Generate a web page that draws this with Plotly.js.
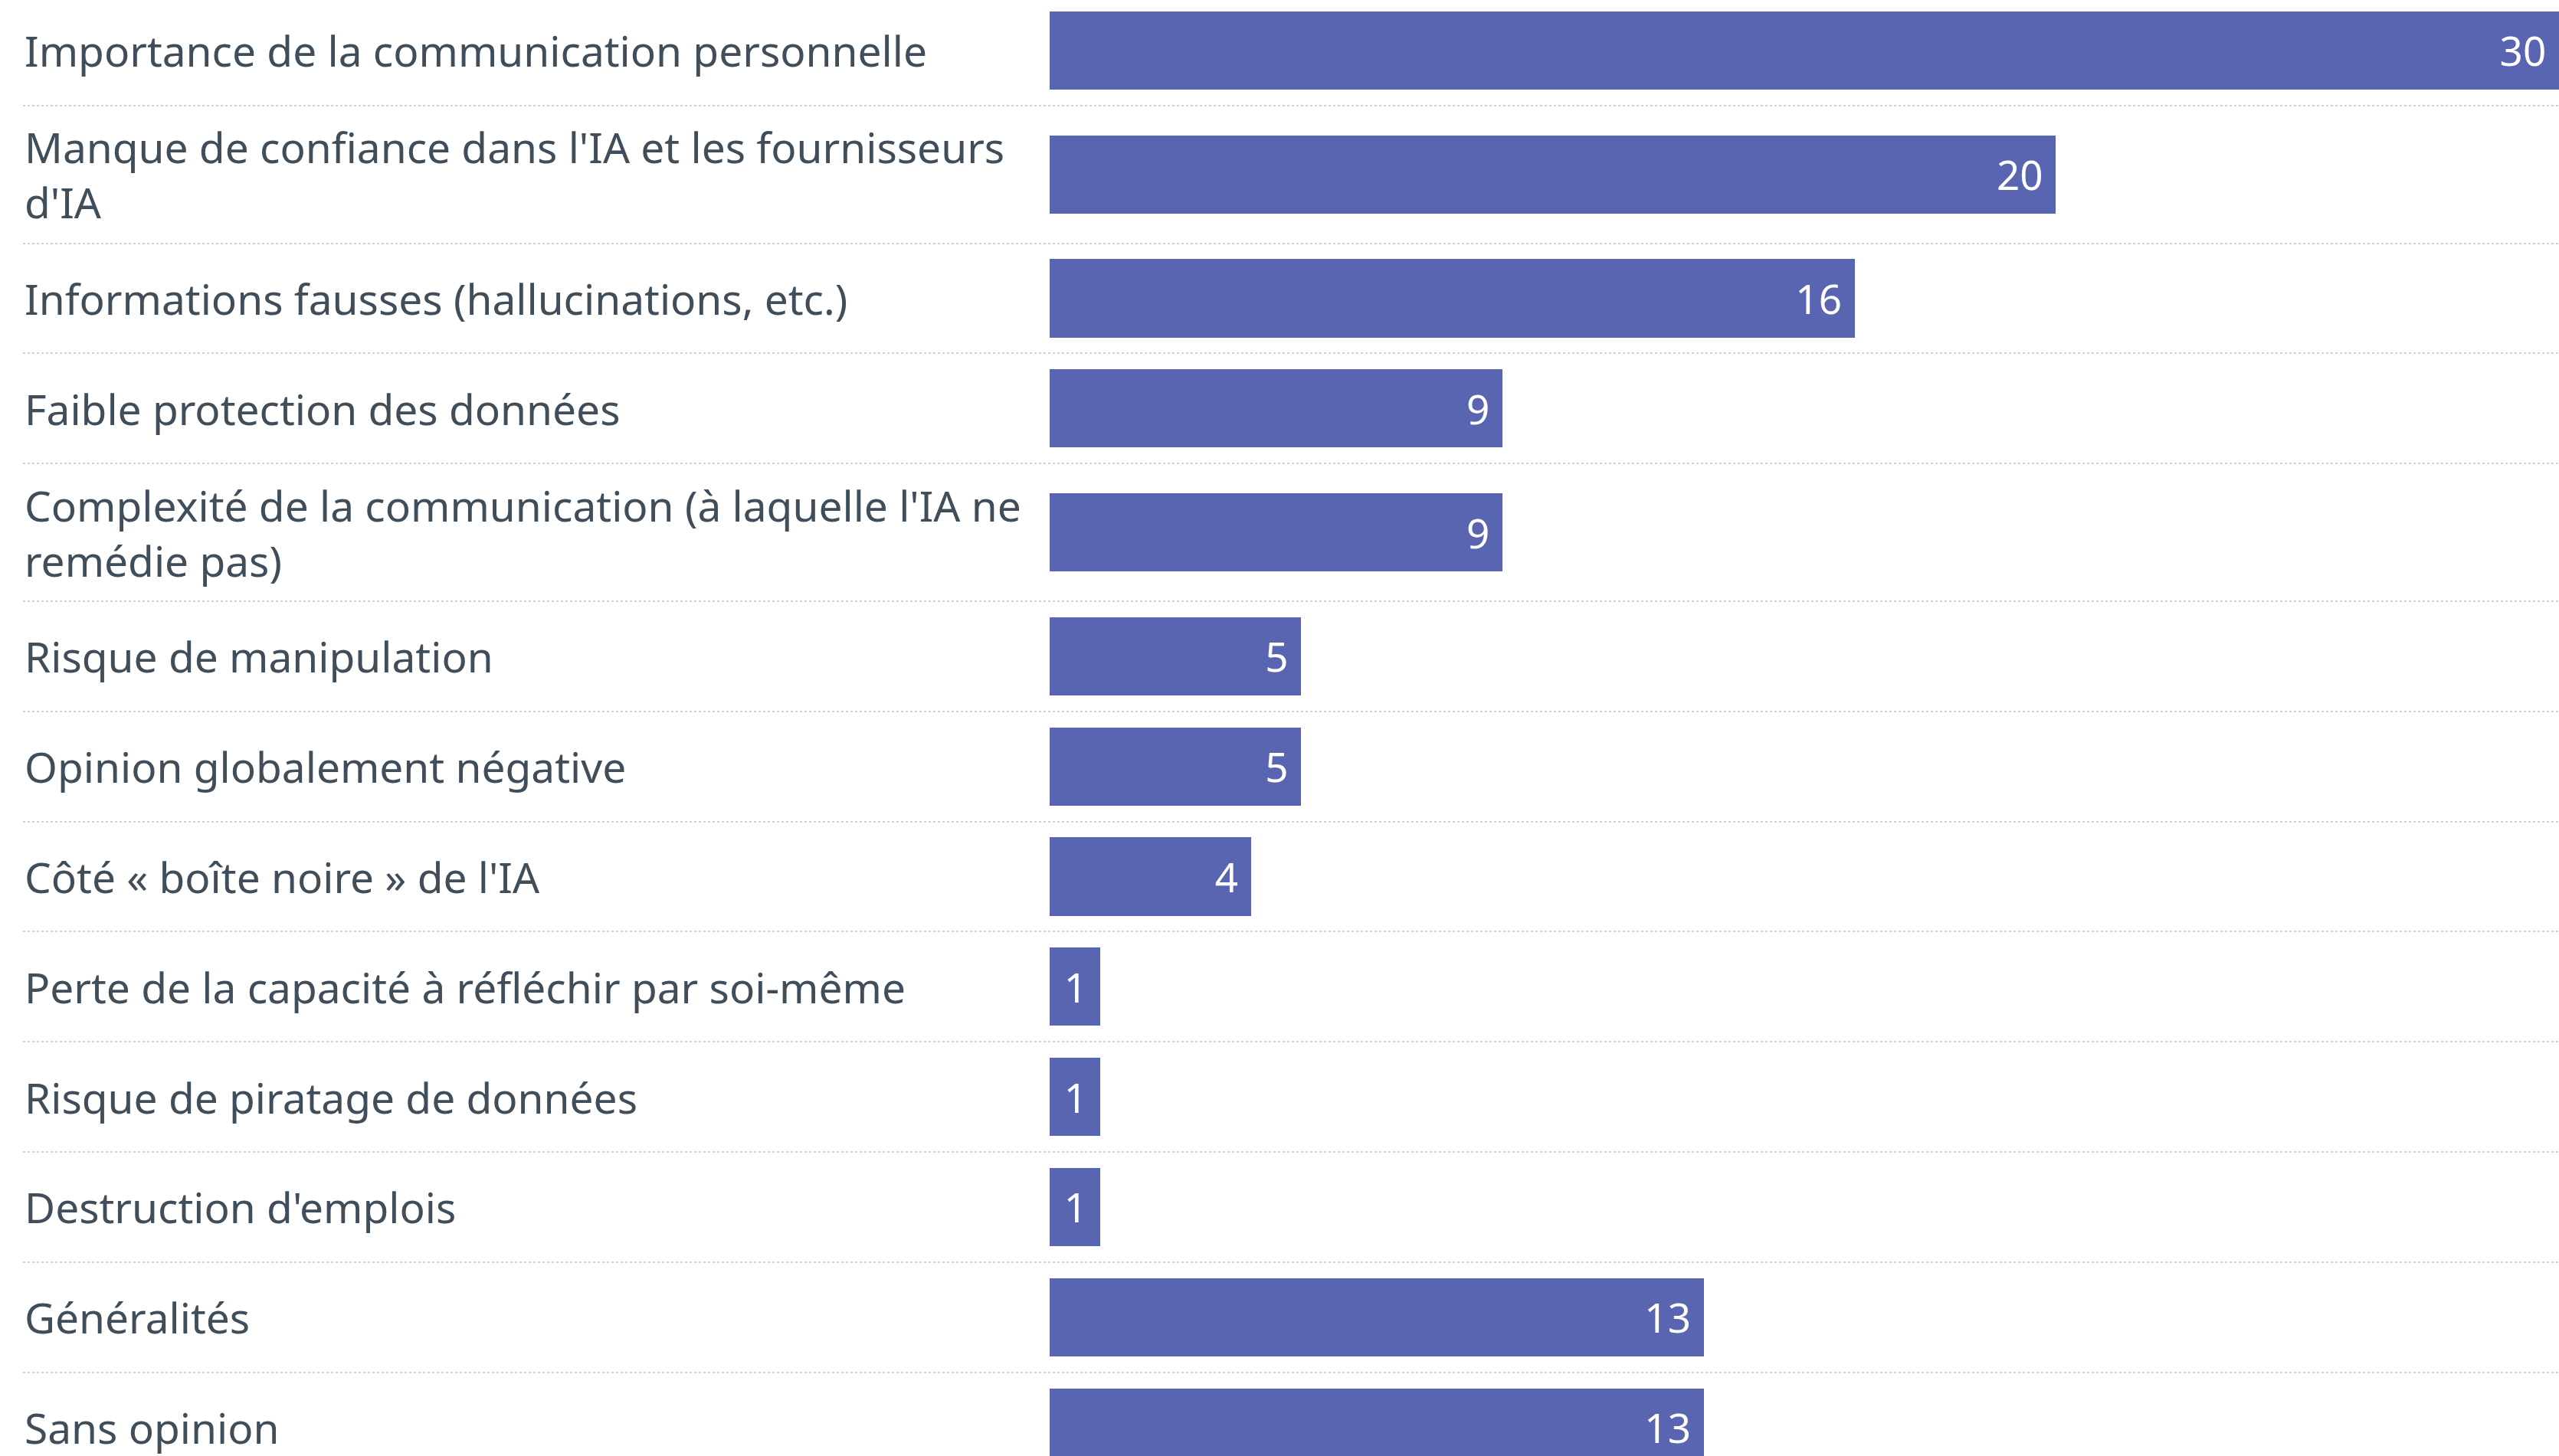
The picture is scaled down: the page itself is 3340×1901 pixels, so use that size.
<!DOCTYPE html>
<html>
<head>
<meta charset="utf-8">
<script src="https://cdn.plot.ly/plotly-3.0.1.min.js"></script>
<style>html,body{margin:0;padding:0;background:#fff;overflow:hidden}</style>
</head>
<body>
<div id="chart" style="width:3340px;height:1901px"></div>
<script>
const categories = [
  "Importance de la communication personnelle",
  "Manque de confiance dans l'IA et les fournisseurs<br>d'IA",
  "Informations fausses (hallucinations, etc.)",
  "Faible protection des données",
  "Complexité de la communication (à laquelle l'IA ne<br>remédie pas)",
  "Risque de manipulation",
  "Opinion globalement négative",
  "Côté « boîte noire » de l'IA",
  "Perte de la capacité à réfléchir par soi-même",
  "Risque de piratage de données",
  "Destruction d'emplois",
  "Généralités",
  "Sans opinion"
];
const values = [30, 20, 16, 9, 9, 5, 5, 4, 1, 1, 1, 13, 13];

// row layout derived from number of label lines
const rowH = categories.map(c => 1 + 0.25 * (c.split('<br>').length - 1));
const centers = [], bounds = [];
let acc = 0;
rowH.forEach((h, i) => { centers.push(acc + h / 2); acc += h; if (i < rowH.length - 1) bounds.push(acc); });

const barColor = '#5a65b1';
const labelColor = '#3f4e5a';
const fontFam = '"Noto Sans", "Open Sans", sans-serif';

const trace = {
  type: 'bar',
  orientation: 'h',
  x: values,
  y: centers,
  width: 0.71,
  base: 0,
  marker: {color: barColor, line: {width: 0}},
  text: values.map(v => String(v) + '\u00a0'),
  texttemplate: '%{text}',
  textposition: 'inside',
  insidetextanchor: 'end',
  constraintext: 'none',
  textfont: {color: '#ffffff', size: 53, family: fontFam},
  hoverinfo: 'skip',
  cliponaxis: true
};

const annotations = categories.map((c, i) => ({
  xref: 'paper', yref: 'y', x: 0, y: centers[i],
  xanchor: 'left', yanchor: 'middle', align: 'left',
  text: c, showarrow: false,
  font: {size: 55, color: labelColor, family: fontFam}
}));

const layout = {
  width: 3340, height: 1901,
  margin: {l: 30, r: 0, t: 0, b: 0, pad: 0},
  paper_bgcolor: '#ffffff', plot_bgcolor: '#ffffff',
  showlegend: false,
  bargap: 0,
  xaxis: {range: [-20.41, 30], showgrid: false, zeroline: false, showticklabels: false, ticks: '', showline: false, fixedrange: true},
  yaxis: {range: [13.26, 0.042], tickmode: 'array', tickvals: bounds, showticklabels: false, ticks: '',
          showgrid: true, gridcolor: '#cfcfcf', gridwidth: 2, griddash: 'dot', zeroline: false, showline: false, fixedrange: true},
  annotations: annotations
};

Plotly.newPlot('chart', [trace], layout, {displayModeBar: false, staticPlot: true});
</script>
</body>
</html>
